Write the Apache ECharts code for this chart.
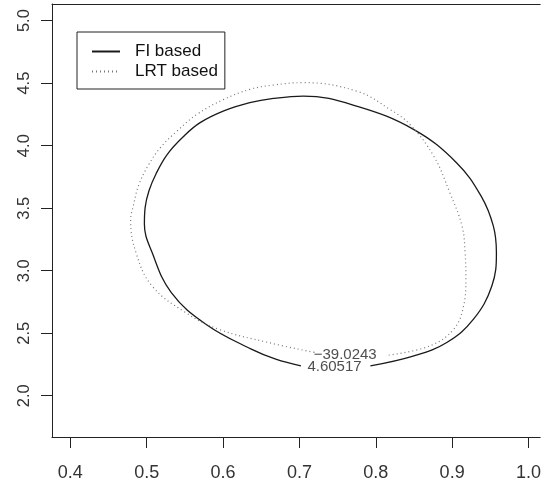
<!DOCTYPE html>
<html>
<head>
<meta charset="utf-8">
<script src="https://cdn.jsdelivr.net/npm/echarts@6/dist/echarts.min.js"></script>
<style>
  html, body { margin: 0; padding: 0; background: #fff; }
  #chart { width: 544px; height: 482px; }
</style>
</head>
<body>
<div id="chart"></div>
<script>
// tick labels
const xTicks = [0.4, 0.5, 0.6, 0.7, 0.8, 0.9, 1.0];
const yTicks = [2.0, 2.5, 3.0, 3.5, 4.0, 4.5, 5.0];

// FI based contour (open at the label gap)
const fiX = [0.793, 0.850, 0.893, 0.928, 0.952, 0.958, 0.954, 0.938, 0.906, 0.850, 0.776, 0.705,
  0.666, 0.635, 0.601, 0.570, 0.549, 0.527, 0.512, 0.503, 0.498, 0.497, 0.507, 0.532, 0.578, 0.637, 0.669, 0.702];
const fiY = [2.239, 2.319, 2.426, 2.612, 2.878, 3.144, 3.356, 3.596, 3.862, 4.128, 4.314, 4.397,
  4.378, 4.344, 4.278, 4.184, 4.078, 3.931, 3.772, 3.639, 3.506, 3.373, 3.147, 2.827, 2.570, 2.373, 2.293, 2.239];

// LRT based contour
const lrtX = [0.817, 0.871, 0.902, 0.915, 0.918, 0.917, 0.913, 0.897, 0.876, 0.845, 0.819, 0.776, 0.705,
  0.666, 0.635, 0.601, 0.566, 0.540, 0.518, 0.503, 0.490, 0.483, 0.479, 0.486, 0.507, 0.551, 0.594, 0.659, 0.720];
const lrtY = [2.325, 2.399, 2.532, 2.718, 2.931, 3.144, 3.356, 3.623, 3.915, 4.168, 4.288, 4.434, 4.504,
  4.485, 4.450, 4.370, 4.251, 4.118, 3.985, 3.852, 3.692, 3.532, 3.400, 3.144, 2.878, 2.665, 2.532, 2.426, 2.346];

// contour level labels
const levelText = ["\u221239.0243", "4.60517"];
const levelX = [0.760, 0.746];
const levelY = [2.327, 2.227];

const zip = (xs, ys) => xs.map((x, i) => [x, ys[i]]);

const chart = echarts.init(document.getElementById("chart"));
const font = "'Liberation Sans', Arial, sans-serif";
const frame = { show: true, lineStyle: { color: "#222", width: 1 } };

chart.setOption({
  animation: false,
  grid: {
    left: 52,
    top: 4,
    right: 0,
    bottom: 44,
  },
  legend: {
    data: ["FI based", "LRT based"],
    orient: "vertical",
    left: 77,
    top: 32,
    padding: [11, 7, 9, 14],
    itemGap: 3,
    itemWidth: 28,
    itemHeight: 14,
    borderColor: "#222",
    borderWidth: 1,
    itemStyle: { color: "transparent", borderWidth: 0, opacity: 0 },
    textStyle: {
      fontFamily: font,
      fontSize: 17,
      lineHeight: 17,
      color: "#111",
      padding: [0, 0, 0, 10],
    },
  },
  xAxis: [
    {
      type: "value",
      min: 0.376,
      max: 1.0153,
      axisLine: frame,
      splitLine: { show: false },
      axisTick: {
        customValues: xTicks,
        length: 11,
        lineStyle: { color: "#222" },
      },
      axisLabel: {
        customValues: xTicks,
        formatter: (v) => v.toFixed(1),
        fontFamily: font,
        fontSize: 18,
        margin: 27,
        color: "#333",
      },
    },
    {
      // top edge of the box
      type: "value",
      position: "top",
      min: 0.376,
      max: 1.0153,
      axisLine: frame,
      axisTick: { show: false },
      axisLabel: { show: false },
      splitLine: { show: false },
    },
  ],
  yAxis: {
    type: "value",
    min: 1.67,
    max: 5.133,
    axisLine: frame,
    splitLine: { show: false },
    axisTick: {
      customValues: yTicks,
      length: 11,
      lineStyle: { color: "#222" },
    },
    axisLabel: {
      customValues: yTicks,
      formatter: (v) => v.toFixed(1),
      rotate: 90,
      fontFamily: font,
      fontSize: 16.5,
      margin: 19,
      color: "#333",
    },
  },
  series: [
    {
      name: "FI based",
      type: "line",
      symbol: "none",
      smooth: 0.4,
      smoothConstraint: false,
      lineStyle: { color: "#1a1a1a", width: 1.3 },
      itemStyle: { color: "#1a1a1a" },
      data: zip(fiX, fiY),
    },
    {
      name: "LRT based",
      type: "line",
      symbol: "none",
      smooth: 0.4,
      smoothConstraint: false,
      lineStyle: { color: "#777", width: 1.2, type: [1, 3] },
      itemStyle: { color: "#777" },
      data: zip(lrtX, lrtY),
    },
    {
      name: "levels",
      type: "scatter",
      silent: true,
      symbolSize: 0,
      label: {
        show: true,
        position: "inside",
        formatter: (p) => p.name,
        fontFamily: font,
        fontSize: 15,
        color: "#222",
      },
      data: levelText.map((t, i) => ({ name: t, value: [levelX[i], levelY[i]] })),
    },
  ],
});
</script>
</body>
</html>
